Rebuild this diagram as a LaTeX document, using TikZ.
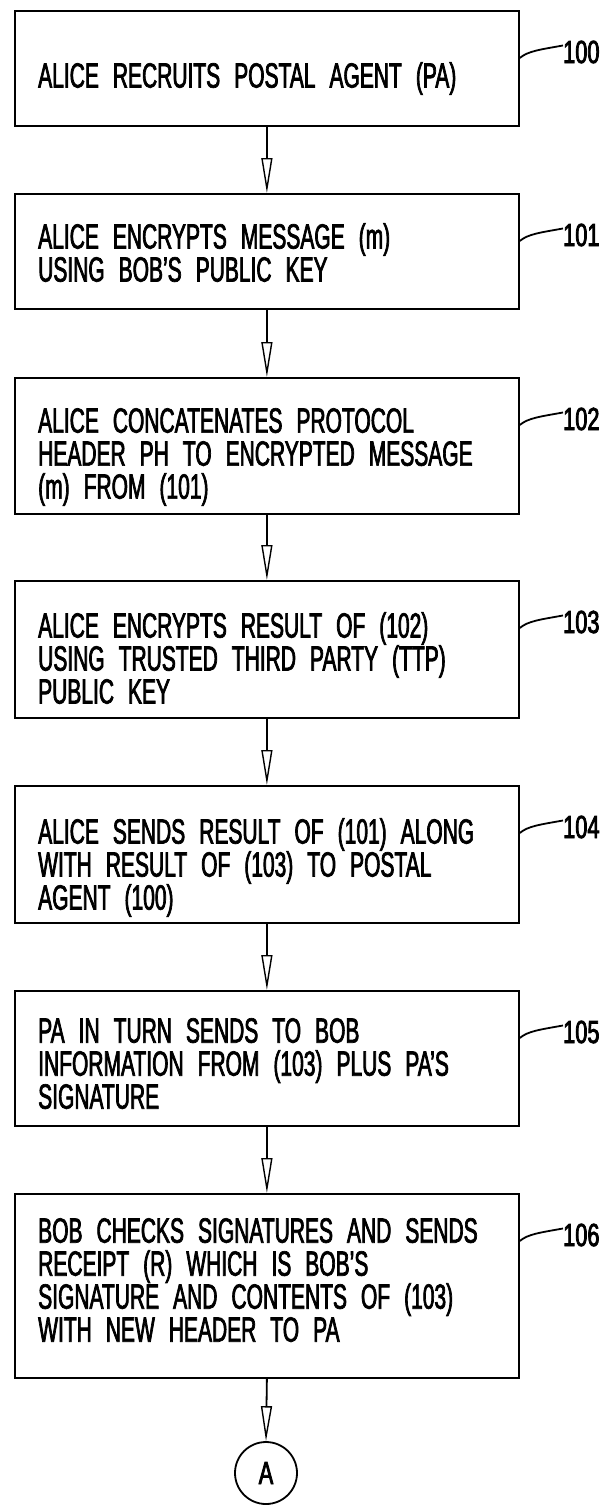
\documentclass[tikz,border=0pt]{standalone}
\usepackage{fontspec}
\setmainfont{Liberation Sans}[FakeStretch=0.6, FakeBold=2]
\newfontfamily\lblfamily{Liberation Sans}[FakeStretch=0.68, FakeBold=2.5]
\usetikzlibrary{arrows.meta,calc}
\newcommand\myboxfont{\fontsize{35}{33}\selectfont\spaceskip 14pt\relax}
\newcommand\mylblfont{\lblfamily\fontsize{32}{32}\selectfont}
\begin{document}
\begin{tikzpicture}[x=1pt,y=-1pt,
  box/.style={draw, line width=1.8pt, minimum width=504pt, inner sep=0pt, anchor=north west},
  txt/.style={anchor=north west, inner sep=0pt, align=left, font=\myboxfont},
  lbl/.style={anchor=west, inner sep=0pt, font=\mylblfont},
  arr/.style={line width=1.8pt, -{Triangle[open, length=35pt, width=11pt, line width=1.4pt]}},
  lead/.style={line width=1.8pt}]
\useasboundingbox (0,0) rectangle (608,1505);

% boxes
\node[box, minimum height=115pt] (b100) at (14,10) {};
\node[box, minimum height=115pt] (b101) at (14,193) {};
\node[box, minimum height=136pt] (b102) at (14,377) {};
\node[box, minimum height=137pt] (b103) at (14,580) {};
\node[box, minimum height=137pt] (b104) at (14,785) {};
\node[box, minimum height=135pt] (b105) at (14,990) {};
\node[box, minimum height=184pt] (b106) at (14,1193) {};

% texts
\node[txt] (t100) at (38,62) {ALICE RECRUITS POSTAL AGENT (PA)};
\node[txt] (t101) at (38,223) {ALICE ENCRYPTS MESSAGE (m)\\USING BOB'S PUBLIC KEY};
\node[txt] (t102) at (38,408) {ALICE CONCATENATES PROTOCOL\\HEADER PH TO ENCRYPTED MESSAGE\\(m) FROM (101)};
\node[txt] (t103) at (38,612) {ALICE ENCRYPTS RESULT OF (102)\\USING TRUSTED THIRD PARTY (TTP)\\PUBLIC KEY};
\node[txt] (t104) at (38,818) {ALICE SENDS RESULT OF (101) ALONG\\WITH RESULT OF (103) TO POSTAL\\AGENT (100)};
\node[txt] (t105) at (38,1018) {PA IN TURN SENDS TO BOB\\INFORMATION FROM (103) PLUS PA'S\\SIGNATURE};
\node[txt] (t106) at (38,1218) {BOB CHECKS SIGNATURES AND SENDS\\RECEIPT (R) WHICH IS BOB'S\\SIGNATURE AND CONTENTS OF (103)\\WITH NEW HEADER TO PA};

% labels and leaders
\foreach \n/\t in {100/10,101/193,102/377,103/580,104/785,105/990,106/1193}{
  \node[lbl] (l\n) at (563,\t+42) {\n};
  \draw[lead] ($(b\n.north east)+(0,48)$) .. controls +(8,-7) and +(-22,4) .. ($(l\n.north west)+(0,5)$);
}

% connector circle
\node[circle, draw, line width=1.8pt, minimum size=62pt, inner sep=0pt,
  font=\mylblfont] (A) at (266,1473) {A};

% arrows
\draw[arr] (b100.south) -- (b101.north);
\draw[arr] (b101.south) -- (b102.north);
\draw[arr] (b102.south) -- (b103.north);
\draw[arr] (b103.south) -- (b104.north);
\draw[arr] (b104.south) -- (b105.north);
\draw[arr] (b105.south) -- (b106.north);
\draw[arr] (b106.south) -- (A.north);
\end{tikzpicture}
\end{document}
